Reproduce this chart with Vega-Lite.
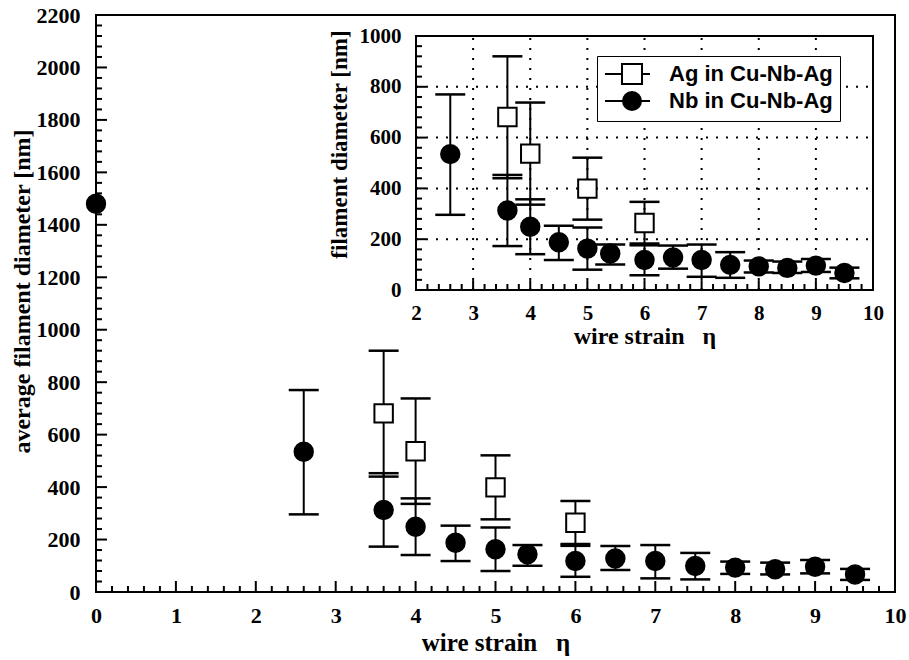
{
  "$schema": "https://vega.github.io/schema/vega-lite/v6.json",
  "width": 799,
  "height": 577,
  "autosize": "none",
  "padding": {"left": 96, "top": 15, "right": 14, "bottom": 68},
  "background": "white",
  "config": {
    "view": {"stroke": "black", "strokeWidth": 2},
    "axis": {
      "domainColor": "black", "labelColor": "black", "titleColor": "black", "tickColor": "black",
      "domainWidth": 2, "tickWidth": 2, "domain": false, "ticks": false,
      "labelFont": "Liberation Serif", "labelFontWeight": "bold",
      "titleFont": "Liberation Serif", "titleFontWeight": "bold",
      "grid": false, "labelFlush": false, "labelOverlap": false, "format": "d"
    }
  },
  "datasets": {
    "pts": [
      {"eta": 0, "d": 1480, "material": "Nb in Cu-Nb-Ag"},
      {"eta": 2.6, "d": 535, "lo": 296, "hi": 770, "material": "Nb in Cu-Nb-Ag"},
      {"eta": 3.6, "d": 313, "lo": 173, "hi": 453, "material": "Nb in Cu-Nb-Ag"},
      {"eta": 4.0, "d": 249, "lo": 141, "hi": 357, "material": "Nb in Cu-Nb-Ag"},
      {"eta": 4.5, "d": 188, "lo": 118, "hi": 253, "material": "Nb in Cu-Nb-Ag"},
      {"eta": 5.0, "d": 163, "lo": 80, "hi": 246, "material": "Nb in Cu-Nb-Ag"},
      {"eta": 5.4, "d": 144, "lo": 100, "hi": 179, "material": "Nb in Cu-Nb-Ag"},
      {"eta": 6.0, "d": 118, "lo": 58, "hi": 176, "material": "Nb in Cu-Nb-Ag"},
      {"eta": 6.5, "d": 128, "lo": 84, "hi": 175, "material": "Nb in Cu-Nb-Ag"},
      {"eta": 7.0, "d": 118, "lo": 52, "hi": 179, "material": "Nb in Cu-Nb-Ag"},
      {"eta": 7.5, "d": 99, "lo": 48, "hi": 149, "material": "Nb in Cu-Nb-Ag"},
      {"eta": 8.0, "d": 93, "lo": 69, "hi": 116, "material": "Nb in Cu-Nb-Ag"},
      {"eta": 8.5, "d": 87, "lo": 67, "hi": 112, "material": "Nb in Cu-Nb-Ag"},
      {"eta": 9.0, "d": 96, "lo": 71, "hi": 122, "material": "Nb in Cu-Nb-Ag"},
      {"eta": 9.5, "d": 67, "lo": 46, "hi": 88, "material": "Nb in Cu-Nb-Ag"},
      {"eta": 3.6, "d": 681, "lo": 440, "hi": 920, "material": "Ag in Cu-Nb-Ag"},
      {"eta": 4.0, "d": 537, "lo": 336, "hi": 738, "material": "Ag in Cu-Nb-Ag"},
      {"eta": 5.0, "d": 399, "lo": 277, "hi": 521, "material": "Ag in Cu-Nb-Ag"},
      {"eta": 6.0, "d": 264, "lo": 183, "hi": 347, "material": "Ag in Cu-Nb-Ag"}
    ],
    "mainXMajor": [{"t": 1}, {"t": 2}, {"t": 3}, {"t": 4}, {"t": 5}, {"t": 6}, {"t": 7}, {"t": 8}, {"t": 9}],
    "mainXMinor": [{"t": 0.2}, {"t": 0.4}, {"t": 0.6}, {"t": 0.8}, {"t": 1.2}, {"t": 1.4}, {"t": 1.6}, {"t": 1.8}, {"t": 2.2}, {"t": 2.4}, {"t": 2.6}, {"t": 2.8}, {"t": 3.2}, {"t": 3.4}, {"t": 3.6}, {"t": 3.8}, {"t": 4.2}, {"t": 4.4}, {"t": 4.6}, {"t": 4.8}, {"t": 5.2}, {"t": 5.4}, {"t": 5.6}, {"t": 5.8}, {"t": 6.2}, {"t": 6.4}, {"t": 6.6}, {"t": 6.8}, {"t": 7.2}, {"t": 7.4}, {"t": 7.6}, {"t": 7.8}, {"t": 8.2}, {"t": 8.4}, {"t": 8.6}, {"t": 8.8}, {"t": 9.2}, {"t": 9.4}, {"t": 9.6}, {"t": 9.8}],
    "mainYMajor": [{"v": 200}, {"v": 400}, {"v": 600}, {"v": 800}, {"v": 1000}, {"v": 1200}, {"v": 1400}, {"v": 1600}, {"v": 1800}, {"v": 2000}],
    "mainYMinor": [{"v": 40}, {"v": 80}, {"v": 120}, {"v": 160}, {"v": 240}, {"v": 280}, {"v": 320}, {"v": 360}, {"v": 440}, {"v": 480}, {"v": 520}, {"v": 560}, {"v": 640}, {"v": 680}, {"v": 720}, {"v": 760}, {"v": 840}, {"v": 880}, {"v": 920}, {"v": 960}, {"v": 1040}, {"v": 1080}, {"v": 1120}, {"v": 1160}, {"v": 1240}, {"v": 1280}, {"v": 1320}, {"v": 1360}, {"v": 1440}, {"v": 1480}, {"v": 1520}, {"v": 1560}, {"v": 1640}, {"v": 1680}, {"v": 1720}, {"v": 1760}, {"v": 1840}, {"v": 1880}, {"v": 1920}, {"v": 1960}, {"v": 2040}, {"v": 2080}, {"v": 2120}, {"v": 2160}],
    "insetXMajor": [{"t": 3}, {"t": 4}, {"t": 5}, {"t": 6}, {"t": 7}, {"t": 8}, {"t": 9}],
    "insetXMinor": [{"t": 2.2}, {"t": 2.4}, {"t": 2.6}, {"t": 2.8}, {"t": 3.2}, {"t": 3.4}, {"t": 3.6}, {"t": 3.8}, {"t": 4.2}, {"t": 4.4}, {"t": 4.6}, {"t": 4.8}, {"t": 5.2}, {"t": 5.4}, {"t": 5.6}, {"t": 5.8}, {"t": 6.2}, {"t": 6.4}, {"t": 6.6}, {"t": 6.8}, {"t": 7.2}, {"t": 7.4}, {"t": 7.6}, {"t": 7.8}, {"t": 8.2}, {"t": 8.4}, {"t": 8.6}, {"t": 8.8}, {"t": 9.2}, {"t": 9.4}, {"t": 9.6}, {"t": 9.8}],
    "insetYMajor": [{"v": 200}, {"v": 400}, {"v": 600}, {"v": 800}],
    "insetYMinor": [{"v": 40}, {"v": 80}, {"v": 120}, {"v": 160}, {"v": 240}, {"v": 280}, {"v": 320}, {"v": 360}, {"v": 440}, {"v": 480}, {"v": 520}, {"v": 560}, {"v": 640}, {"v": 680}, {"v": 720}, {"v": 760}, {"v": 840}, {"v": 880}, {"v": 920}, {"v": 960}]
  },
  "layer": [
    {
      "data": {"name": "pts"},
      "layer": [
        {
          "mark": {"type": "rule", "color": "black", "strokeWidth": 2},
          "encoding": {
            "x": {
              "field": "eta", "type": "quantitative",
              "scale": {"domain": [0, 10], "nice": false, "zero": false},
              "axis": {
                "orient": "bottom",
                "values": [0,1,2,3,4,5,6,7,8,9,10],
                "labelPadding": 13,
                "labelFontSize": 22,
                "title": "wire strain\u00a0\u00a0\u00a0η",
                "titleFontSize": 25,
                "titlePadding": 4
              }
            },
            "y": {
              "field": "lo", "type": "quantitative",
              "scale": {"domain": [0, 2200], "nice": false, "zero": false},
              "axis": {
                "orient": "left",
                "values": [0,200,400,600,800,1000,1200,1400,1600,1800,2000,2200],
                "labelPadding": 16,
                "labelFontSize": 22,
                "title": "average filament diameter [nm]",
                "titleFontSize": 24,
                "titlePadding": 2,
                "titleY": 276
              }
            },
            "y2": {"field": "hi"}
          }
        },
        {
          "data": {"name": "mainXMajor"},
          "mark": {"type": "rule", "color": "black", "strokeWidth": 2},
          "encoding": {
            "x": {"field": "t", "type": "quantitative"},
            "y": {"datum": 0, "type": "quantitative"},
            "y2": {"datum": 42}
          }
        },
        {
          "data": {"name": "mainXMinor"},
          "mark": {"type": "rule", "color": "black", "strokeWidth": 2},
          "encoding": {
            "x": {"field": "t", "type": "quantitative"},
            "y": {"datum": 0, "type": "quantitative"},
            "y2": {"datum": 23}
          }
        },
        {
          "data": {"name": "mainYMajor"},
          "mark": {"type": "rule", "color": "black", "strokeWidth": 2},
          "encoding": {
            "y": {"field": "v", "type": "quantitative"},
            "x": {"datum": 0, "type": "quantitative"},
            "x2": {"datum": 0.1375}
          }
        },
        {
          "data": {"name": "mainYMinor"},
          "mark": {"type": "rule", "color": "black", "strokeWidth": 2},
          "encoding": {
            "y": {"field": "v", "type": "quantitative"},
            "x": {"datum": 0, "type": "quantitative"},
            "x2": {"datum": 0.075}
          }
        },
        {
          "mark": {"type": "tick", "orient": "horizontal", "size": 30, "thickness": 2.5, "color": "black", "opacity": 1},
          "encoding": {
            "x": {"field": "eta", "type": "quantitative"},
            "y": {"field": "lo", "type": "quantitative"}
          }
        },
        {
          "mark": {"type": "tick", "orient": "horizontal", "size": 30, "thickness": 2.5, "color": "black", "opacity": 1},
          "encoding": {
            "x": {"field": "eta", "type": "quantitative"},
            "y": {"field": "hi", "type": "quantitative"}
          }
        },
        {
          "transform": [{"filter": "datum.material === 'Nb in Cu-Nb-Ag'"}],
          "mark": {"type": "point", "shape": "circle", "filled": true, "fill": "black", "stroke": "black", "strokeWidth": 2, "opacity": 1, "size": 340},
          "encoding": {
            "x": {"field": "eta", "type": "quantitative"},
            "y": {"field": "d", "type": "quantitative"}
          }
        },
        {
          "transform": [{"filter": "datum.material === 'Ag in Cu-Nb-Ag'"}],
          "mark": {"type": "point", "shape": "square", "filled": true, "fill": "white", "stroke": "black", "strokeWidth": 2, "opacity": 1, "size": 340},
          "encoding": {
            "x": {"field": "eta", "type": "quantitative"},
            "y": {"field": "d", "type": "quantitative"}
          }
        },
        {
          "transform": [{"filter": "datum.eta < 0"}],
          "mark": {"type": "point", "filled": true, "strokeWidth": 2, "opacity": 1},
          "encoding": {
            "x": {"field": "eta", "type": "quantitative"},
            "y": {"field": "d", "type": "quantitative"},
            "shape": {
              "field": "material", "type": "nominal",
              "scale": {"domain": ["Ag in Cu-Nb-Ag", "Nb in Cu-Nb-Ag"], "range": ["M-1,-1H1V1H-1Z M-2.7,0H-1 M1,0H1.8", "M0.9,0A0.9,0.9,0,1,1,-0.9,0A0.9,0.9,0,1,1,0.9,0Z M-2.7,0H1.8"]},
              "legend": {
                "title": null, "orient": "none", "legendX": 501, "legendY": 41, "direction": "vertical",
                "padding": 7, "strokeColor": "black", "fillColor": "white",
                "symbolSize": 400, "symbolStrokeWidth": 2, "symbolOffset": 17,
                "labelOffset": 26, "labelFont": "Liberation Sans", "labelFontWeight": "bold", "labelFontSize": 22,
                "labelColor": "black", "rowPadding": 0, "labelLimit": 400
              }
            },
            "fill": {
              "field": "material", "type": "nominal",
              "scale": {"domain": ["Ag in Cu-Nb-Ag", "Nb in Cu-Nb-Ag"], "range": ["white", "black"]},
              "legend": {
                "title": null, "orient": "none", "legendX": 501, "legendY": 41, "direction": "vertical",
                "padding": 7, "strokeColor": "black", "fillColor": "white",
                "symbolSize": 400, "symbolStrokeWidth": 2, "symbolOffset": 17,
                "labelOffset": 26, "labelFont": "Liberation Sans", "labelFontWeight": "bold", "labelFontSize": 22,
                "labelColor": "black", "rowPadding": 0, "labelLimit": 400
              }
            },
            "stroke": {
              "field": "material", "type": "nominal",
              "scale": {"domain": ["Ag in Cu-Nb-Ag", "Nb in Cu-Nb-Ag"], "range": ["black", "black"]},
              "legend": {
                "title": null, "orient": "none", "legendX": 501, "legendY": 41, "direction": "vertical",
                "padding": 7, "strokeColor": "black", "fillColor": "white",
                "symbolSize": 400, "symbolStrokeWidth": 2, "symbolOffset": 17,
                "labelOffset": 26, "labelFont": "Liberation Sans", "labelFontWeight": "bold", "labelFontSize": 22,
                "labelColor": "black", "rowPadding": 0, "labelLimit": 400
              }
            }
          }
        }
      ]
    },
    {
      "data": {"name": "pts"},
      "transform": [{"filter": "datum.eta >= 2"}],
      "layer": [
        {
          "data": {"values": [{"frame": 1}]},
          "mark": {"type": "rect", "fill": "white", "stroke": "black", "strokeWidth": 2},
          "encoding": {
            "x": {
              "datum": 2, "type": "quantitative",
              "scale": {"domain": [2, 10], "range": [320, 777], "nice": false, "zero": false},
              "axis": {
                "orient": "bottom", "offset": -302,
                "values": [2,3,4,5,6,7,8,9,10],
                "labelPadding": 12,
                "labelFontSize": 21,
                "title": "wire strain\u00a0\u00a0\u00a0η",
                "titleFontSize": 24,
                "titlePadding": 1
              }
            },
            "x2": {"datum": 10},
            "y": {
              "datum": 0, "type": "quantitative",
              "scale": {"domain": [0, 1000], "range": [275, 21], "nice": false, "zero": false},
              "axis": {
                "orient": "left", "offset": -320,
                "values": [0,200,400,600,800,1000],
                "labelPadding": 15,
                "labelFontSize": 21,
                "title": "filament diameter [nm]",
                "titleFontSize": 23,
                "titlePadding": 8,
                "titleY": 129
              }
            },
            "y2": {"datum": 1000}
          }
        },
        {
          "data": {"values": [{"g": 3}, {"g": 4}, {"g": 5}, {"g": 6}, {"g": 7}, {"g": 8}, {"g": 9}]},
          "mark": {"type": "rule", "color": "black", "strokeWidth": 2, "strokeDash": [2, 8]},
          "encoding": {
            "x": {"field": "g", "type": "quantitative"},
            "y": {"datum": 0, "type": "quantitative"},
            "y2": {"datum": 1000}
          }
        },
        {
          "data": {"values": [{"h": 200}, {"h": 400}, {"h": 600}, {"h": 800}]},
          "mark": {"type": "rule", "color": "black", "strokeWidth": 2, "strokeDash": [2, 8]},
          "encoding": {
            "y": {"field": "h", "type": "quantitative"},
            "x": {"datum": 2, "type": "quantitative"},
            "x2": {"datum": 10}
          }
        },
        {
          "data": {"name": "insetXMajor"},
          "mark": {"type": "rule", "color": "black", "strokeWidth": 2},
          "encoding": {
            "x": {"field": "t", "type": "quantitative"},
            "y": {"datum": 0, "type": "quantitative"},
            "y2": {"datum": 39}
          }
        },
        {
          "data": {"name": "insetXMinor"},
          "mark": {"type": "rule", "color": "black", "strokeWidth": 2},
          "encoding": {
            "x": {"field": "t", "type": "quantitative"},
            "y": {"datum": 0, "type": "quantitative"},
            "y2": {"datum": 23.6}
          }
        },
        {
          "data": {"name": "insetYMajor"},
          "mark": {"type": "rule", "color": "black", "strokeWidth": 2},
          "encoding": {
            "y": {"field": "v", "type": "quantitative"},
            "x": {"datum": 2, "type": "quantitative"},
            "x2": {"datum": 2.175}
          }
        },
        {
          "data": {"name": "insetYMinor"},
          "mark": {"type": "rule", "color": "black", "strokeWidth": 2},
          "encoding": {
            "y": {"field": "v", "type": "quantitative"},
            "x": {"datum": 2, "type": "quantitative"},
            "x2": {"datum": 2.105}
          }
        },
        {
          "mark": {"type": "rule", "color": "black", "strokeWidth": 2},
          "encoding": {
            "x": {"field": "eta", "type": "quantitative"},
            "y": {"field": "lo", "type": "quantitative"},
            "y2": {"field": "hi"}
          }
        },
        {
          "mark": {"type": "tick", "orient": "horizontal", "size": 30, "thickness": 2.5, "color": "black", "opacity": 1},
          "encoding": {
            "x": {"field": "eta", "type": "quantitative"},
            "y": {"field": "lo", "type": "quantitative"}
          }
        },
        {
          "mark": {"type": "tick", "orient": "horizontal", "size": 30, "thickness": 2.5, "color": "black", "opacity": 1},
          "encoding": {
            "x": {"field": "eta", "type": "quantitative"},
            "y": {"field": "hi", "type": "quantitative"}
          }
        },
        {
          "transform": [{"filter": "datum.material === 'Nb in Cu-Nb-Ag'"}],
          "mark": {"type": "point", "shape": "circle", "filled": true, "fill": "black", "stroke": "black", "strokeWidth": 2, "opacity": 1, "size": 340},
          "encoding": {
            "x": {"field": "eta", "type": "quantitative"},
            "y": {"field": "d", "type": "quantitative"}
          }
        },
        {
          "transform": [{"filter": "datum.material === 'Ag in Cu-Nb-Ag'"}],
          "mark": {"type": "point", "shape": "square", "filled": true, "fill": "white", "stroke": "black", "strokeWidth": 2, "opacity": 1, "size": 340},
          "encoding": {
            "x": {"field": "eta", "type": "quantitative"},
            "y": {"field": "d", "type": "quantitative"}
          }
        }
      ]
    }
  ],
  "resolve": {"scale": {"x": "independent", "y": "independent"}}
}
